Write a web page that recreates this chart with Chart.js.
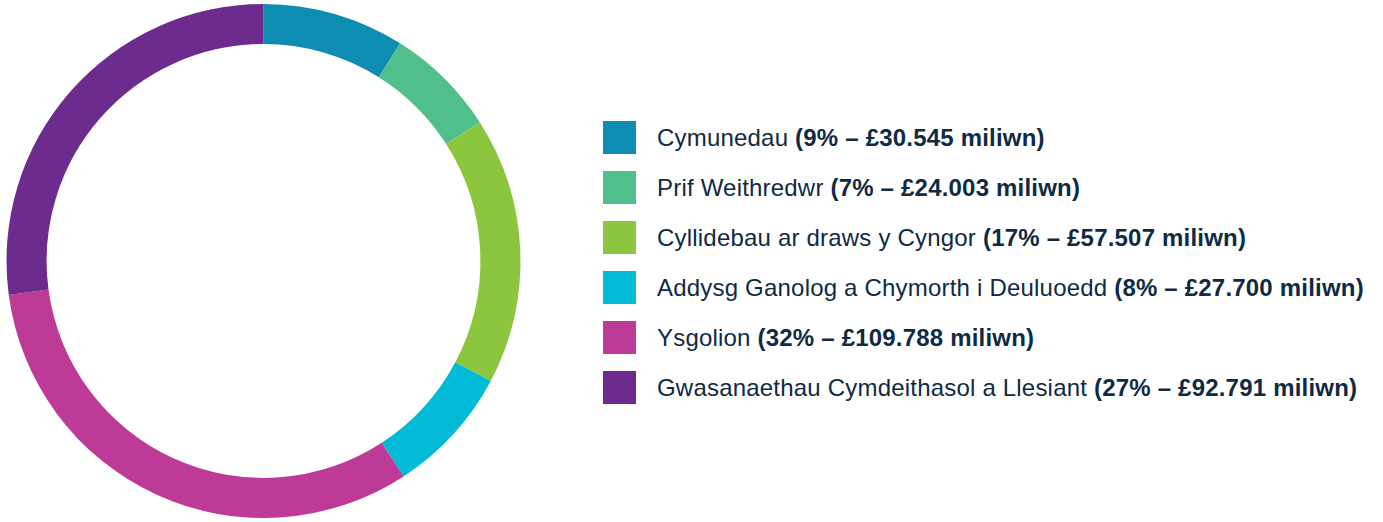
<!DOCTYPE html>
<html>
<head>
<meta charset="utf-8">
<script src="https://cdn.jsdelivr.net/npm/chart.js@4"></script>
<style>
  html, body { margin: 0; padding: 0; background: #fff; }
  #wrap { position: relative; width: 1383px; height: 522px; }
  #chartBox { position: absolute; left: 0; top: 0; width: 527px; height: 522px; }
  #legend { position: absolute; left: 603px; top: 121px; font-family: "Liberation Sans", Arial, sans-serif; font-size: 24px; letter-spacing: 0.2px; color: #0f2a44; }
  .row { height: 33px; margin-bottom: 17px; display: flex; align-items: center; white-space: nowrap; }
  .sw { width: 33px; height: 33px; margin-right: 21px; flex: none; }
  .row b { font-weight: bold; }
</style>
</head>
<body>
<div id="wrap">
  <div id="chartBox"><canvas id="budget"></canvas></div>
  <div id="legend"></div>
</div>
<script>
'use strict';

// Budget by directorate (£ million) and its share
const labels = [
    'Cymunedau',
    'Prif Weithredwr',
    'Cyllidebau ar draws y Cyngor',
    'Addysg Ganolog a Chymorth i Deuluoedd',
    'Ysgolion',
    'Gwasanaethau Cymdeithasol a Llesiant'
];
const amounts = [30.545, 24.003, 57.507, 27.700, 109.788, 92.791];
const percents = ['9%', '7%', '17%', '8%', '32%', '27%'];
const colours = ['#0e8db3', '#50bf8c', '#8cc63e', '#00bad6', '#bd3a96', '#6e2b8e'];

const ctx = document.getElementById('budget').getContext('2d');
new Chart(ctx, {
    type: 'doughnut',
    data: {
        labels: labels,
        datasets: [{
            data: amounts,
            backgroundColor: colours,
            borderWidth: 0
        }]
    },
    options: {
        responsive: true,
        maintainAspectRatio: false,
        animation: false,
        cutout: '84.4%',
        layout: { padding: 4 },
        plugins: {
            legend: { display: false },
            tooltip: { enabled: false }
        }
    }
});

// legend with bold value part, built from the same arrays
const legend = document.getElementById('legend');
labels.forEach((name, i) => {
    const row = document.createElement('div');
    row.className = 'row';
    const sw = document.createElement('span');
    sw.className = 'sw';
    sw.style.background = colours[i];
    const txt = document.createElement('span');
    txt.appendChild(document.createTextNode(name + ' '));
    const b = document.createElement('b');
    b.textContent = '(' + percents[i] + ' \u2013 \u00a3' + amounts[i].toFixed(3) + ' miliwn)';
    txt.appendChild(b);
    row.appendChild(sw);
    row.appendChild(txt);
    legend.appendChild(row);
});
</script>
</body>
</html>
